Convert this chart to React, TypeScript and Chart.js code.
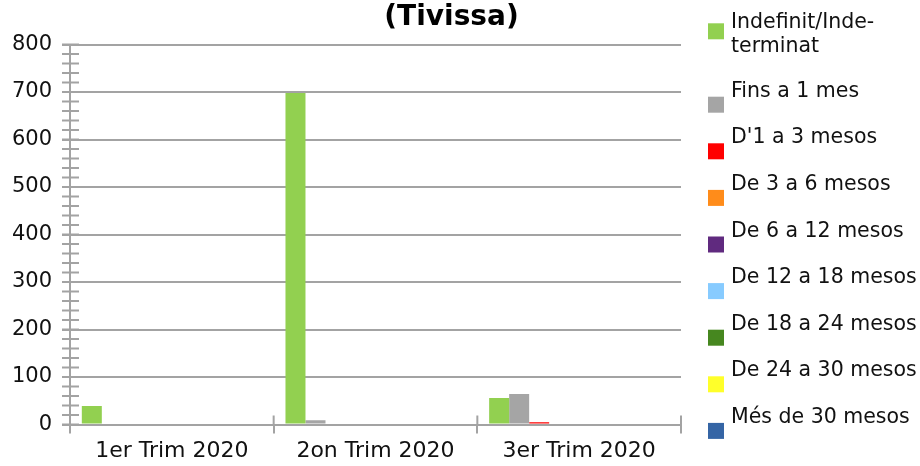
import React, { useEffect, useRef } from "react";
import { Chart, registerables } from "chart.js";

Chart.register(...registerables);

const TITLE = "(Tivissa)";
const CATEGORIES = ["1er Trim 2020", "2on Trim 2020", "3er Trim 2020"];

const SERIES_LABELS = [
  "Indefinit/Inde-\nterminat",
  "Fins a 1 mes",
  "D'1 a 3 mesos",
  "De 3 a 6 mesos",
  "De 6 a 12 mesos",
  "De 12 a 18 mesos",
  "De 18 a 24 mesos",
  "De 24 a 30 mesos",
  "Més de 30 mesos",
];

const SERIES_COLORS = [
  "#92d050",
  "#a5a5a5",
  "#ff0000",
  "#ff8c1a",
  "#602a7f",
  "#87cbff",
  "#46871f",
  "#ffff2a",
  "#3565a5",
];

const indefinit = [39, 698, 56];
const fins1mes = [0, 9, 64];
const de1a3 = [0, 0, 5];
const de3a6 = [0, 0, 0];
const de6a12 = [0, 0, 0];
const de12a18 = [0, 0, 0];
const de18a24 = [0, 0, 0];
const de24a30 = [0, 0, 0];
const mesDe30 = [0, 0, 0];

const SERIES_VALUES = [indefinit, fins1mes, de1a3, de3a6, de6a12, de12a18, de18a24, de24a30, mesDe30];

const Y_MIN = 0;
const Y_MAX = 800;
const Y_STEP = 100;
const Y_MINOR_STEP = 20;

const FONT = "'DejaVu Sans', sans-serif";
const AXIS_COLOR = "#a3a3a3";
const TEXT_COLOR = "#111111";

const decorPlugin = {
  id: "decor",
  afterDraw(chart: any) {
    const { ctx, scales } = chart;
    const y = scales.y;
    const x = scales.x;
    ctx.save();
    ctx.strokeStyle = AXIS_COLOR;
    ctx.lineWidth = 2;
    // minor ticks on y axis, crossing the axis line
    for (let v = Y_MIN; v <= Y_MAX; v += Y_MINOR_STEP) {
      const py = y.getPixelForValue(v);
      ctx.beginPath();
      ctx.moveTo(x.left - 8, py);
      ctx.lineTo(x.left + 9, py);
      ctx.stroke();
    }
    // category boundary ticks above x axis
    const n = CATEGORIES.length;
    const base = y.getPixelForValue(0);
    for (let i = 0; i <= n; i++) {
      const px = x.left + (i * x.width) / n;
      ctx.beginPath();
      ctx.moveTo(px, base - 9);
      ctx.lineTo(px, base);
      ctx.stroke();
    }
    // title
    ctx.fillStyle = "#000";
    ctx.font = `bold 28px ${FONT}`;
    ctx.textAlign = "center";
    ctx.textBaseline = "alphabetic";
    ctx.fillText(TITLE, 451.5, 25);

    // legend
    ctx.font = `20.5px ${FONT}`;
    ctx.textAlign = "left";
    ctx.fillStyle = TEXT_COLOR;
    let baseline = 28.3;
    const lineGap = 23.4;
    const itemGap = 46.6;
    chart.data.datasets.forEach((ds: any) => {
      const lines = String(ds.label).split("\n");
      const markerCenter = baseline + (lines.length > 1 ? 3 : 8);
      ctx.fillStyle = ds.backgroundColor;
      ctx.fillRect(708, markerCenter - 8, 16, 16);
      ctx.fillStyle = TEXT_COLOR;
      lines.forEach((ln: string, j: number) => {
        ctx.fillText(ln, 731, baseline + j * lineGap);
      });
      baseline += lines.length > 1 ? 68.4 : itemGap;
    });
    ctx.restore();
  },
};

export default function App() {
  const canvasRef = useRef<HTMLCanvasElement | null>(null);

  useEffect(() => {
    if (!canvasRef.current) return;
    const chart = new Chart(canvasRef.current, {
      type: "bar",
      data: {
        labels: CATEGORIES,
        datasets: SERIES_LABELS.map((label, i) => ({
          label,
          data: SERIES_VALUES[i],
          backgroundColor: SERIES_COLORS[i],
          borderWidth: 0,
          barPercentage: 1,
          categoryPercentage: 0.884,
        })),
      },
      options: {
        animation: false,
        responsive: true,
        maintainAspectRatio: false,
        layout: { padding: { top: 44.5, left: 0, right: 239, bottom: 0 } },
        plugins: {
          legend: { display: false },
          title: { display: false },
          tooltip: { enabled: false },
        },
        scales: {
          x: {
            offset: true,
            grid: {
              display: true,
              drawOnChartArea: false,
              drawTicks: true,
              tickLength: 9,
              color: AXIS_COLOR,
              lineWidth: 2,
              offset: true,
            },
            border: { display: true, color: AXIS_COLOR, width: 2 },
            ticks: {
              color: TEXT_COLOR,
              font: { family: FONT, size: 22 },
              padding: 5,
              maxRotation: 0,
            },
            afterFit: (scale: any) => {
              scale.height = 41.5;
            },
          },
          y: {
            min: Y_MIN,
            max: Y_MAX,
            ticks: {
              stepSize: Y_STEP,
              color: TEXT_COLOR,
              font: { family: FONT, size: 21 },
              padding: 10,
            },
            grid: {
              color: AXIS_COLOR,
              lineWidth: 2,
              tickLength: 8,
            },
            border: { display: true, color: AXIS_COLOR, width: 2 },
            afterFit: (scale: any) => {
              scale.width = 70;
            },
          },
        },
      },
      plugins: [decorPlugin],
    });
    return () => chart.destroy();
  }, []);

  return (
    <div style={{ position: "absolute", left: 0, top: 0, width: 920, height: 466, background: "#fff" }}>
      <canvas ref={canvasRef} />
    </div>
  );
}
